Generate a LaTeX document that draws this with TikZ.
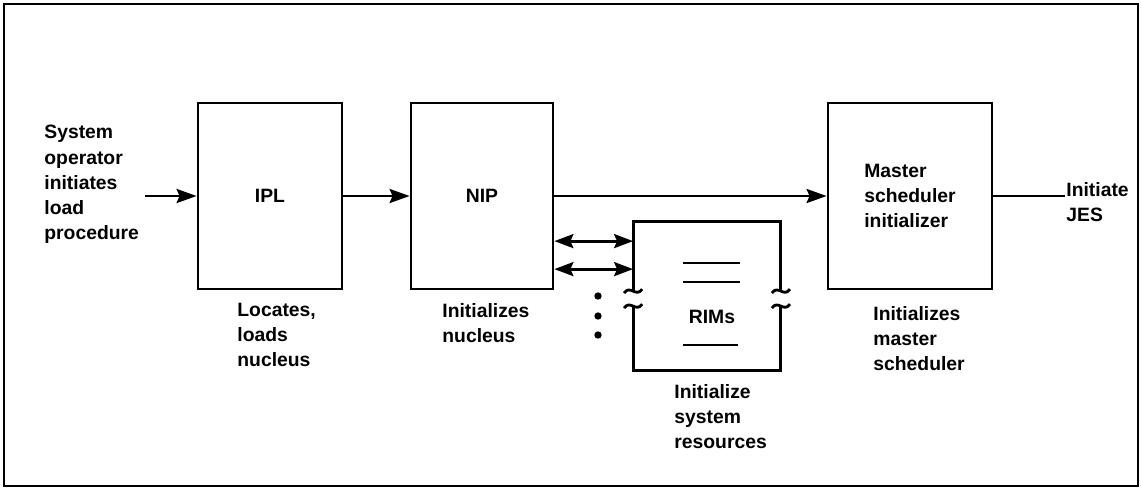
\documentclass[tikz,border=0pt]{standalone}
\usepackage{fontspec}
\setmainfont{Liberation Sans}
\usetikzlibrary{arrows.meta,positioning,calc}

\tikzset{
  blk/.style={draw, minimum height=3.72cm},
  note/.style={align=left, inner sep=0pt, anchor=north west},
  flow/.style={-{Stealth[length=4mm,width=2.8mm,inset=0.6mm]}},
  twoway/.style={{Stealth[length=3.8mm,width=2.8mm,inset=0.6mm]}-{Stealth[length=3.8mm,width=2.8mm,inset=0.6mm]}},
  every node/.style={font=\fontsize{11}{14.3}\selectfont\bfseries}
}

\begin{document}
\begin{tikzpicture}[x=0.02cm, y=-0.02cm, line width=1.6pt]
  \useasboundingbox (0,0) rectangle (1142,488);
  % outer frame
  \draw (4,4) rectangle (1138,486);

  % main chain of boxes
  \node[blk, minimum width=2.88cm] (ipl) at (270,196) {IPL};
  \node[blk, minimum width=2.84cm] (nip) at (482,196) {NIP};
  \node[blk, minimum width=3.28cm, align=left] (msi) at (910,196) {Master\\scheduler\\initializer};

  % RIMs box, sides broken
  \node[minimum width=2.9cm, minimum height=2.94cm, inner sep=0pt] (rims) at (707,296) {};
  \node (rimstxt) at (712,317) {RIMs};
  \coordinate (lb1) at ($(rims.north west)+(0,70)$);
  \coordinate (lb2) at ($(rims.north west)+(0,85)$);
  \coordinate (rb1) at ($(rims.north east)+(0,70)$);
  \coordinate (rb2) at ($(rims.north east)+(0,85)$);
  \draw (lb1) -- (rims.north west) -- (rims.north east) -- (rb1);
  \draw (rb2) -- (rims.south east) -- (rims.south west) -- (lb2);
  \foreach \c in {lb1,lb2,rb1,rb2}
    \draw ([shift={(-9,2)}]\c) .. controls ([shift={(-3,-7)}]\c) and ([shift={(3,7)}]\c) .. ([shift={(9,-2)}]\c);
  \draw ($(rims)+(-24,-33)$) -- ($(rims)+(33,-33)$);
  \draw ($(rims)+(-24,-14)$) -- ($(rims)+(33,-14)$);
  \draw ($(rims)+(-24,49)$) -- ($(rims)+(31,49)$);

  % texts
  \node[note] (sysop) at (43,124) {System\\operator\\initiates\\load\\procedure};
  \node[note] (iplnote) at (236,302) {Locates,\\loads\\nucleus};
  \node[note] (nipnote) at (441,302) {Initializes\\nucleus};
  \node[note] (rimsnote) at (673,383) {Initialize\\system\\resources};
  \node[note] (msinote) at (872,305) {Initializes\\master\\scheduler};
  \node[note] (jes) at (1065,181) {Initiate\\JES};

  % connectors
  \coordinate (opin) at ($(sysop.east |- ipl.west)+(5,0)$);
  \draw[flow] (opin) -- (ipl.west);
  \draw[flow] (ipl) -- (nip);
  \draw[flow] (nip) -- (msi);
  \draw (msi.east) -- (msi.east -| jes.west);
  \coordinate (r1) at ($(rims.north west)+(0,20)$);
  \coordinate (r2) at ($(rims.north west)+(0,48)$);
  \draw[twoway] (nip.east |- r1) -- (r1);
  \draw[twoway] (nip.east |- r2) -- (r2);

  % more RIMs
  \foreach \y in {296,316,335}
    \fill (598,\y) circle (2.1pt);
\end{tikzpicture}
\end{document}
